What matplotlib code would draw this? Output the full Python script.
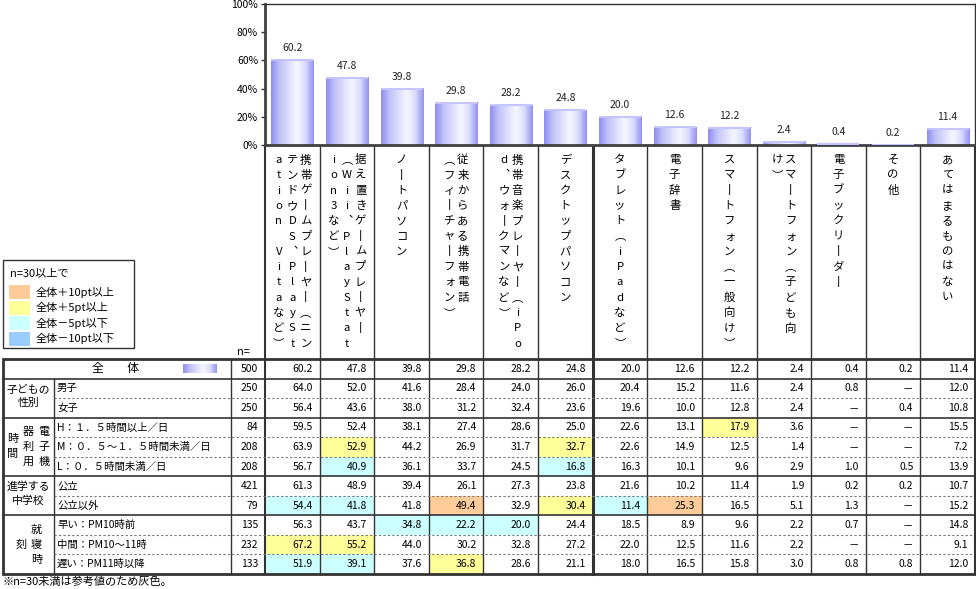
import numpy as np
import matplotlib
matplotlib.use('Agg')
import matplotlib.pyplot as plt
from matplotlib.colors import LinearSegmentedColormap
from matplotlib.patches import Rectangle

plt.rcParams['font.family'] = ['Noto Sans CJK JP', 'DejaVu Sans']

# ---- データ ----
categories = [
    '携帯ゲームプレーヤー（ニンテンドウDS、PlayStation Vitaなど）',
    '据え置きゲームプレーヤー（Wii、PlayStation3など）',
    'ノートパソコン',
    '従来からある携帯電話（フィーチャーフォン）',
    '携帯音楽プレーヤー（iPod、ウォークマンなど）',
    'デスクトップパソコン',
    'タブレット（iPadなど）',
    '電子辞書',
    'スマートフォン（一般向け）',
    'スマートフォン（子ども向け）',
    '電子ブックリーダー',
    'その他',
    'あてはまるものはない',
]
total_n = 500
total_vals = [60.2, 47.8, 39.8, 29.8, 28.2, 24.8, 20.0, 12.6, 12.2, 2.4, 0.4, 0.2, 11.4]

groups = ['子どもの性別', '電子機器利用時間', '進学する中学校', '就寝時刻']
group_sizes = [2, 3, 2, 3]
row_labels = ['男子', '女子',
              'H：１．５時間以上／日', 'M：０．５～１．５時間未満／日', 'L：０．５時間未満／日',
              '公立', '公立以外',
              '早い：PM10時前', '中間：PM10～11時', '遅い：PM11時以降']
row_n = [250, 250, 84, 208, 208, 421, 79, 135, 232, 133]
row_vals = [
    [64.0, 52.0, 41.6, 28.4, 24.0, 26.0, 20.4, 15.2, 11.6, 2.4, 0.8, None, 12.0],
    [56.4, 43.6, 38.0, 31.2, 32.4, 23.6, 19.6, 10.0, 12.8, 2.4, None, 0.4, 10.8],
    [59.5, 52.4, 38.1, 27.4, 28.6, 25.0, 22.6, 13.1, 17.9, 3.6, None, None, 15.5],
    [63.9, 52.9, 44.2, 26.9, 31.7, 32.7, 22.6, 14.9, 12.5, 1.4, None, None, 7.2],
    [56.7, 40.9, 36.1, 33.7, 24.5, 16.8, 16.3, 10.1, 9.6, 2.9, 1.0, 0.5, 13.9],
    [61.3, 48.9, 39.4, 26.1, 27.3, 23.8, 21.6, 10.2, 11.4, 1.9, 0.2, 0.2, 10.7],
    [54.4, 41.8, 41.8, 49.4, 32.9, 30.4, 11.4, 25.3, 16.5, 5.1, 1.3, None, 15.2],
    [56.3, 43.7, 34.8, 22.2, 20.0, 24.4, 18.5, 8.9, 9.6, 2.2, 0.7, None, 14.8],
    [67.2, 55.2, 44.0, 30.2, 32.8, 27.2, 22.0, 12.5, 11.6, 2.2, None, None, 9.1],
    [51.9, 39.1, 37.6, 36.8, 28.6, 21.1, 18.0, 16.5, 15.8, 3.0, 0.8, 0.8, 12.0],
]
legend_labels = ['全体＋10pt以上', '全体＋5pt以上', '全体－5pt以下', '全体－10pt以下']
legend_colors = ['#FFCC99', '#FFFF99', '#CCFFFF', '#99CCFF']

LINE = '#333333'
W, H = 976, 589
fig = plt.figure(figsize=(9.76, 5.89), dpi=100)
bg = fig.add_axes([0, 0, 1, 1])
bg.axis('off')

X0, X1 = 265, 975
YT, YB = 4, 145
ax = fig.add_axes([X0 / W, 1 - YB / H, (X1 - X0) / W, (YB - YT) / H])

# 円柱風グラデーション
pos = np.linspace(0, 1, 64)
light = np.interp(pos, [0, 0.2, 0.6, 0.8, 1], [0.0, 0.5, 1.0, 0.75, 0.05])
grad = light[np.newaxis, :]
cmap = LinearSegmentedColormap.from_list('cyl', ['#8e8ef2', '#f6f6ff'])

bw = 0.77
for i, v in enumerate(total_vals):
    ax.imshow(grad, extent=(i - bw / 2, i + bw / 2, 0, v), cmap=cmap, vmin=0, vmax=1,
              aspect='auto', interpolation='bilinear', zorder=2)
    ax.plot([i - bw / 2, i + bw / 2], [v, v], color='#c4c4ff', lw=1.5, zorder=3,
            solid_capstyle='butt')
    ax.annotate(f'{v:.1f}', (i, v), xytext=(0, 5), textcoords='offset points',
                ha='center', va='bottom', fontsize=7.5, color='#222222')
ax.set_xlim(-0.5, 12.5)
ax.set_ylim(0, 100)
ax.set_xticks([])
ax.set_yticks(range(0, 101, 20))
ax.set_yticklabels([f'{t}%' for t in range(0, 101, 20)])
ax.tick_params(axis='y', length=3, width=1, color=LINE, labelsize=7.5, pad=2)
for s in ['left', 'bottom']:
    ax.spines[s].set_linewidth(2)
    ax.spines[s].set_color('#404040')
for s in ['top', 'right']:
    ax.spines[s].set_linewidth(1)
    ax.spines[s].set_color(LINE)

# ---- 表 ----
cols_x = X0 + np.arange(14) * (X1 - X0) / 13
TBL_TOP, TBL_BOT = 359, 574
nrows = 1 + len(row_labels)
rh = (TBL_BOT - TBL_TOP) / nrows
row_top = [TBL_TOP + r * rh for r in range(nrows + 1)]


def shade(v, base):
    if v is None:
        return None
    d = round(v - base, 1)
    if d >= 10:
        return legend_colors[0]
    if d >= 5:
        return legend_colors[1]
    if d <= -10:
        return legend_colors[3]
    if d <= -5:
        return legend_colors[2]
    return None


# セル塗り
for r, vals in enumerate(row_vals):
    for k, v in enumerate(vals):
        c = shade(v, total_vals[k])
        if c:
            bg.add_patch(Rectangle((cols_x[k], row_top[r + 1]), cols_x[k + 1] - cols_x[k], rh,
                                   facecolor=c, edgecolor='none', zorder=1))

# 縦線
for k in range(14):
    lw = 2.2 if k == 6 else (1.5 if k in (0, 13) else 1)
    bg.plot([cols_x[k]] * 2, [YB, TBL_BOT], color=LINE, lw=lw, zorder=3)
bg.plot([231, 231], [TBL_TOP, TBL_BOT], color=LINE, lw=1, zorder=3)
bg.plot([54, 54], [row_top[1], TBL_BOT], color=LINE, lw=1, zorder=3)

# 横線
starts = np.cumsum([0] + group_sizes[:-1]) + 1
for r in range(1, nrows):
    if r in starts:
        bg.plot([3, 975], [row_top[r]] * 2, color=LINE, lw=1.2, zorder=3)
    else:
        bg.plot([54, 975], [row_top[r]] * 2, color='#777777', lw=0.8,
                linestyle=(0, (2, 2)), zorder=3)
bg.add_patch(Rectangle((3, TBL_TOP), 972, TBL_BOT - TBL_TOP, fill=False,
                       edgecolor=LINE, lw=2, zorder=4))

fs_num = 7.5
# 全体行
yc = row_top[0] + rh / 2
bg.text(115, yc, '全　　体', ha='center', va='center', fontsize=8.5)
bg.imshow(grad, extent=(183, 217, 373, 364), cmap=cmap, vmin=0, vmax=1,
          aspect='auto', interpolation='bilinear', zorder=2)
bg.text(258, yc, str(total_n), ha='right', va='center', fontsize=fs_num)
for k, v in enumerate(total_vals):
    bg.text(cols_x[k + 1] - 7, yc, f'{v:.1f}', ha='right', va='center', fontsize=fs_num)

# 各行
for r, (lab, n, vals) in enumerate(zip(row_labels, row_n, row_vals)):
    yc = row_top[r + 1] + rh / 2
    bg.text(57, yc, lab, ha='left', va='center', fontsize=7.5)
    bg.text(258, yc, str(n), ha='right', va='center', fontsize=fs_num)
    for k, v in enumerate(vals):
        s = '－' if v is None else f'{v:.1f}'
        bg.text(cols_x[k + 1] - 7, yc, s, ha='right', va='center', fontsize=fs_num)

# グループ見出し
vmap = {'ー': '丨', '（': '︵', '）': '︶', '、': '︑'}
for g, (name, size, st) in enumerate(zip(groups, group_sizes, starts)):
    y0, y1 = row_top[st], row_top[st + size]
    ym = (y0 + y1) / 2
    if size >= 3:
        cols = [name[i:i + 3] for i in range(0, len(name), 3)]
        for c, chars in enumerate(cols):
            x = 28.5 + ((len(cols) - 1) / 2 - c) * 15.5
            for j, ch in enumerate(chars):
                bg.text(x, ym + (j - (len(chars) - 1) / 2) * 15, ch,
                        ha='center', va='center', fontsize=8)
    else:
        bg.text(28.5, ym - 2, name[:4] + '\n' + name[4:], ha='center', va='center',
                fontsize=7.8, linespacing=1.35)

# 縦書き項目名（禁則処理つき）
no_start = set('ー）、ィォャュョッァゥェ')
no_end = set('（')


def wrap_v(s, n=13):
    out = []
    while len(s) > n:
        b = n
        while b > 1 and (s[b] in no_start or s[b - 1] in no_end):
            b -= 1
        out.append(s[:b])
        s = s[b:]
    out.append(s)
    return out


for k, name in enumerate(categories):
    cx = (cols_x[k] + cols_x[k + 1]) / 2
    lines = wrap_v(name)
    for c, line in enumerate(lines):
        x = cx + ((len(lines) - 1) / 2 - c) * 13.5
        for j, ch in enumerate(line):
            if ch == ' ':
                continue
            bg.text(x, 160 + j * 15.3, vmap.get(ch, ch), ha='center', va='center',
                    fontsize=8.2)

# 凡例
bg.add_patch(Rectangle((3, 260), 131, 88, facecolor='white', edgecolor=LINE, lw=1, zorder=2))
bg.text(10, 273, 'n=30以上で', ha='left', va='center', fontsize=8)
for i, (lab, col) in enumerate(zip(legend_labels, legend_colors)):
    yy = 292 + i * 15.5
    bg.add_patch(Rectangle((9, yy - 7), 21, 14, facecolor=col, edgecolor='none', zorder=3))
    bg.text(36, yy, lab, ha='left', va='center', fontsize=8)

bg.text(243, 352, 'n=', ha='center', va='center', fontsize=8)
bg.text(3, 582, '※n=30未満は参考値のため灰色。', ha='left', va='center', fontsize=8)

bg.set_xlim(0, W)
bg.set_ylim(H, 0)

fig.savefig('out.png', dpi=100)
